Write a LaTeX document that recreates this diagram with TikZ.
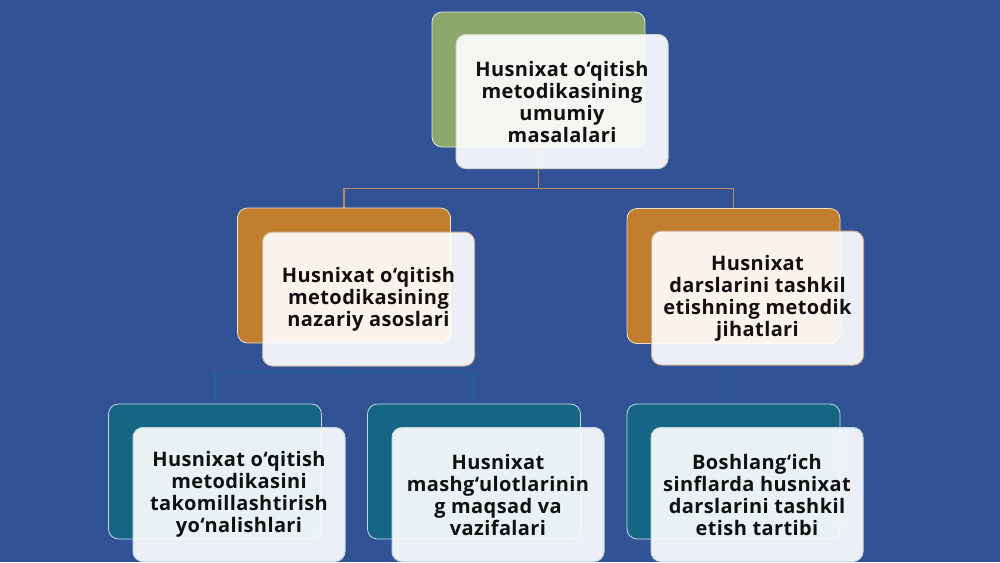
\documentclass[tikz,border=0pt]{standalone}
\usepackage{fontspec}
\setmainfont{Open Sans}[LetterSpace=2]
\usetikzlibrary{backgrounds}
\definecolor{bgblue}{RGB}{49,83,150}
\definecolor{gback}{RGB}{140,168,108}
\definecolor{oback}{RGB}{192,126,46}
\definecolor{tback}{RGB}{20,102,132}
\definecolor{tanline}{RGB}{184,140,96}
\definecolor{tealline}{RGB}{30,100,150}
\definecolor{txt}{RGB}{17,17,17}
\tikzset{
  backbox/.style={rounded corners=10pt, minimum width=213pt, minimum height=135pt, inner sep=0pt, draw=white!75!#1, line width=0.8pt, fill=#1},
  frontbox/.style={rounded corners=10pt, minimum width=212pt, minimum height=134pt, inner sep=0pt, draw=#1, line width=1pt, fill=white, fill opacity=0.91, text opacity=1, text=txt, align=center, font=\bfseries\fontsize{20}{22}\selectfont},
  topconn/.style={draw=tanline, line width=1.3pt},
  lowconn/.style={draw=tealline, line width=1.3pt}
}
\begin{document}
\begin{tikzpicture}[x=1pt,y=-1pt]
\useasboundingbox (0,0) rectangle (1000,562);
% back boxes
\node[backbox=gback] (topB) at (538.5,79.5) {};
\node[backbox=oback] (mlB) at (344,275.5) {};
\node[backbox=oback] (mrB) at (733.5,276) {};
\node[backbox=tback] (blB) at (215,471.5) {};
\node[backbox=tback] (bmB) at (474,471.5) {};
\node[backbox=tback] (brB) at (733.5,471.5) {};
% front boxes
\node[frontbox=gray!35!gback!40!white] (topF) at (562,101.5) {Husnixat o‘qitish\\metodikasining\\umumiy\\masalalari};
\node[frontbox=tanline!70!white] (mlF) at (368.5,299) {Husnixat o‘qitish\\metodikasining\\nazariy asoslari};
\node[frontbox=tanline!70!white] (mrF) at (757.5,298) {Husnixat\\darslarini tashkil\\etishning metodik\\jihatlari};
\node[frontbox=tback!25!white] (blF) at (239,494.5) {Husnixat o‘qitish\\metodikasini\\takomillashtirish\\yo‘nalishlari};
\node[frontbox=tback!25!white] (bmF) at (498,494.5) {Husnixat\\mashg‘ulotlarinin\\g maqsad va\\vazifalari};
\node[frontbox=tback!25!white] (brF) at (757,494.5) {Boshlang‘ich\\sinflarda husnixat\\darslarini tashkil\\etish tartibi};
\begin{pgfonlayer}{background}
\fill[bgblue] (0,0) rectangle (1000,562);
\draw[topconn] (topB.south) -- ++(0,41) -| (mlB.north);
\draw[topconn] (topB.south) -- ++(0,41) -| (mrB.north);
\draw[lowconn] (mlB.south) -- ++(0,29) -| (blB.north);
\draw[lowconn] (mlB.south) -- ++(0,29) -| (bmB.north);
\draw[lowconn] (mrB.south) -- (brB.north);
\end{pgfonlayer}
\end{tikzpicture}
\end{document}
